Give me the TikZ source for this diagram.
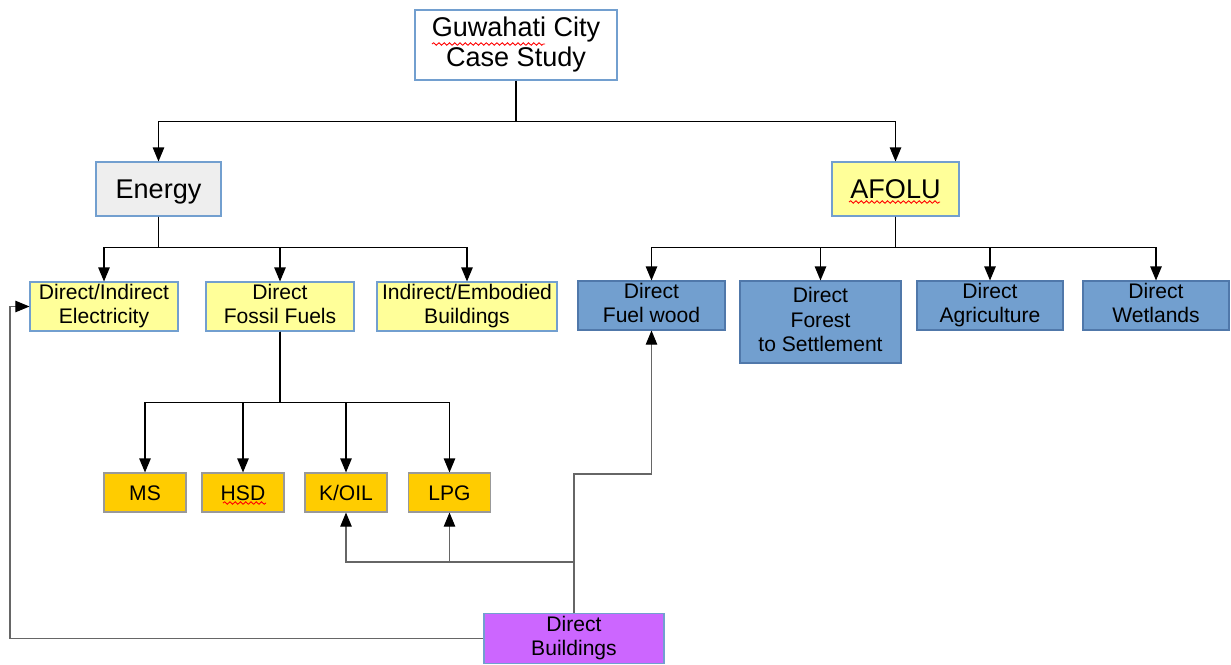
\documentclass[tikz,border=0pt]{standalone}
\usepackage{fontspec}
\setmainfont{Liberation Sans}
\usetikzlibrary{arrows.meta,decorations.pathmorphing}
\definecolor{boxedge}{RGB}{114,159,207}
\definecolor{greyfill}{RGB}{238,238,238}
\definecolor{paleyellow}{RGB}{255,255,153}
\definecolor{steelfill}{RGB}{114,159,207}
\definecolor{steeledge}{RGB}{80,120,170}
\definecolor{amberfill}{RGB}{255,204,0}
\definecolor{violetfill}{RGB}{204,102,255}
\def\smallfs{\fontsize{12}{13.7}\selectfont}
\def\bigfs{\fontsize{15.4}{17.5}\selectfont}
\def\capup{\rule{0pt}{0.966em}}
\def\capdown{\rule[-0.25em]{0pt}{0pt}}

\begin{document}
\begin{tikzpicture}[x=0.02cm,y=-0.02cm,line width=0.7pt,
  box/.style={draw=boxedge,line width=0.6pt,align=center,inner sep=0pt,font=\smallfs,
    execute at begin node=\capup,execute at end node=\capdown},
  topbox/.style={box,fill=white,font=\bigfs,execute at begin node={\rule{0pt}{1.3em}}},
  greybox/.style={box,fill=greyfill,font=\bigfs},
  yellowbox/.style={box,fill=paleyellow},
  bluebox/.style={box,fill=steelfill,draw=steeledge},
  amberbox/.style={box,fill=amberfill,draw=black!40},
  violetbox/.style={box,fill=violetfill,draw=boxedge},
  conn/.style={-{Triangle[length=8pt,width=6.5pt]}},
  bconn/.style={black!60,line width=0.6pt,-{Triangle[length=8pt,width=6.5pt,black]}},
  squig/.style={red,line width=0.5pt,decorate,decoration={snake,amplitude=0.7pt,segment length=3pt}}]
  \useasboundingbox (0,0) rectangle (1231,664);

  \node[topbox,minimum width=4.04cm,minimum height=1.4cm] (city) at (516,45) {Guwahati City\\Case Study};
  \node[greybox,minimum width=2.5cm,minimum height=1.08cm] (energy) at (158.5,189) {Energy};
  \node[yellowbox,font=\bigfs,minimum width=2.54cm,minimum height=1.08cm] (afolu) at (895.5,189) {AFOLU};

  \node[yellowbox,minimum width=2.96cm,minimum height=0.98cm] (elec) at (104,306.5) {Direct/Indirect\\Electricity};
  \node[yellowbox,minimum width=2.96cm,minimum height=0.98cm] (fossil) at (280,306.5) {Direct\\Fossil Fuels};
  \node[yellowbox,minimum width=3.6cm,minimum height=0.98cm] (embodied) at (467,306.5) {Indirect/Embodied\\Buildings};

  \node[bluebox,minimum width=2.94cm,minimum height=0.98cm] (fuelwood) at (651.5,305.5) {Direct\\Fuel wood};
  \node[bluebox,minimum width=3.22cm,minimum height=1.64cm] (forest) at (820.5,322) {Direct\\Forest\\to Settlement};
  \node[bluebox,minimum width=2.92cm,minimum height=0.98cm] (agri) at (990,305.5) {Direct\\Agriculture};
  \node[bluebox,minimum width=2.92cm,minimum height=0.98cm] (wet) at (1156,305.5) {Direct\\Wetlands};

  \foreach \nm/\cx/\txt in {ms/145/MS, hsd/243/HSD, koil/346/{K/OIL}, lpg/449.5/LPG}
    \node[amberbox,minimum width=1.64cm,minimum height=0.78cm] (\nm) at (\cx,492.5) {\txt};

  \node[violetbox,minimum width=3.6cm,minimum height=1.0cm] (build) at (574,638.5) {Direct\\Buildings};

  \draw[conn] (city.south) -- ++(0,41) -| (energy.north);
  \draw[conn] (city.south) ++(0,41) -| (afolu.north);
  \foreach \n in {elec,fossil,embodied}
    \draw[conn] (energy.south) -- ++(0,31) -| (\n.north);
  \foreach \n in {fuelwood,forest,agri,wet}
    \draw[conn] (afolu.south) -- ++(0,31) -| (\n.north);
  \foreach \n in {ms,hsd,koil,lpg}
    \draw[conn] (fossil.south) -- ++(0,71) -| (\n.north);

  \draw[bconn] (build.north) -- ++(0,-51) -| (koil.south);
  \draw[bconn] (build.north) -- ++(0,-51) -| (lpg.south);
  \draw[bconn] (build.north) -- ++(0,-139) -| (fuelwood.south);
  \draw[bconn] (build.west) -- (build.west -| 10,0) |- (elec.west);

  \draw[squig] (432,44) -- (545,44);
  \draw[squig] (849,202) -- (940,202);
  \draw[squig] (223,503) -- (266,503);
\end{tikzpicture}
\end{document}
